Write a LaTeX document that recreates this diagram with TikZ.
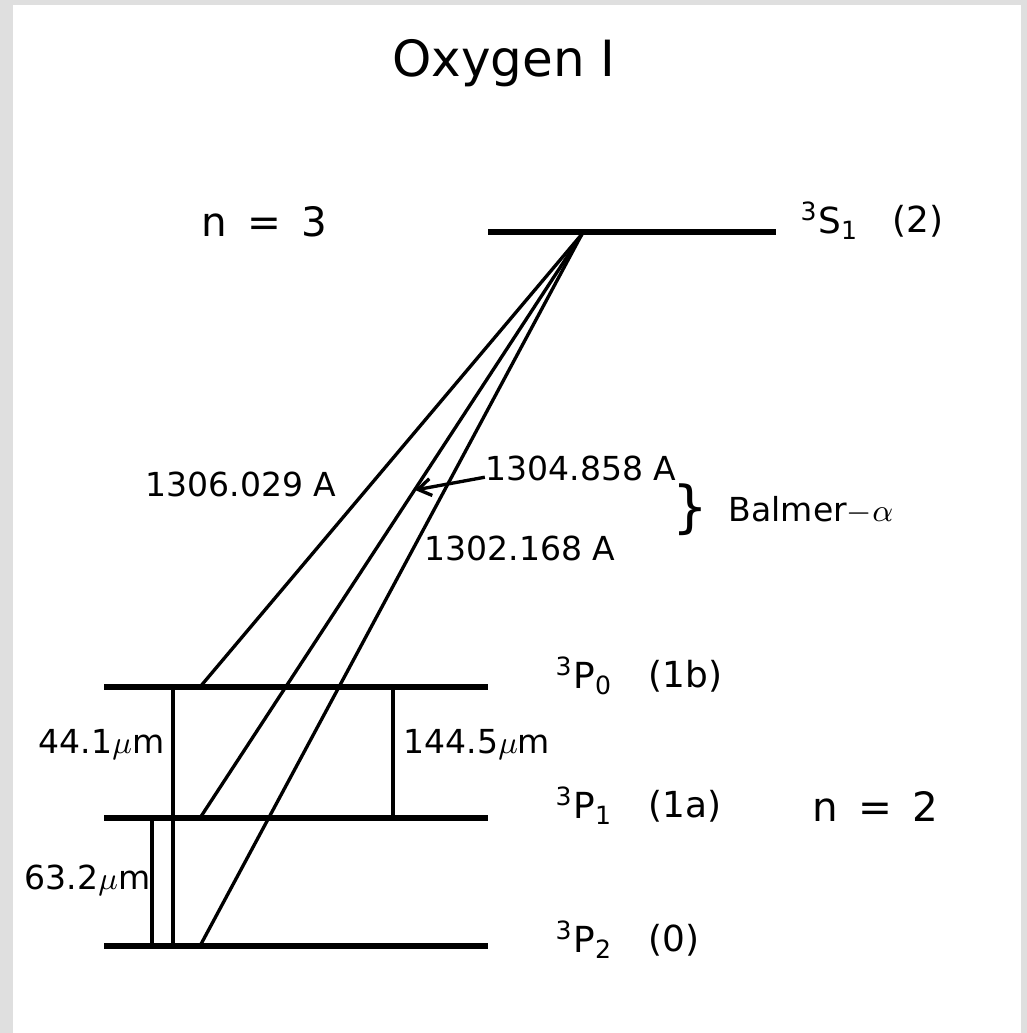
\documentclass[tikz,border=0pt]{standalone}
\usepackage{fontspec}
\setmainfont{DejaVu Sans}
\usetikzlibrary{arrows.meta}
\tikzset{
  >={Straight Barb[length=1.3mm,width=1.7mm]},
  level/.style={line width=1.5pt},
  trans/.style={line width=0.95pt},
  lbl/.style={inner sep=0pt, font=\fontsize{9.4}{11}\selectfont},
  term/.style={inner sep=0pt, anchor=west, font=\fontsize{10.2}{12}\selectfont},
  qnum/.style={inner sep=0pt, font=\fontsize{11.5}{14}\selectfont},
}
\newcommand{\trm}[3]{\textsuperscript{#1}#2\textsubscript{#3}}

\begin{document}
\begin{tikzpicture}[x=0.01cm, y=-0.01cm]
    \fill[gray!25] (0,0) rectangle (1027,1033);
    \fill[white] (13,5) rectangle (1021,1033);
    \useasboundingbox (0,0) rectangle (1027,1033);

    \node[inner sep=0pt, font=\fontsize{14.2}{17}\selectfont] (title) at (504,63) {Oxygen I};

    % energy levels
    \coordinate (S1l) at (488,232);  \coordinate (S1r) at (776,232);
    \coordinate (P0l) at (104,687);  \coordinate (P0r) at (488,687);
    \coordinate (P1l) at (104,818);  \coordinate (P1r) at (488,818);
    \coordinate (P2l) at (104,946);  \coordinate (P2r) at (488,946);
    \draw[level] (S1l) -- (S1r);
    \draw[level] (P0l) -- (P0r);
    \draw[level] (P1l) -- (P1r);
    \draw[level] (P2l) -- (P2r);

    \node[qnum] (n3) at (264,222) {n\hspace{0.5em}=\hspace{0.5em}3};
    \node[qnum] (n2) at (875,806) {n\hspace{0.5em}=\hspace{0.5em}2};

    \node[term] (tS1) at (800,221) {\trm{3}{S}{1}};
    \node[term] (wS1) at (892,221) {(2)};
    \node[term] (tP0) at (555,676) {\trm{3}{P}{0}};
    \node[term] (wP0) at (648,676) {(1b)};
    \node[term] (tP1) at (555,806) {\trm{3}{P}{1}};
    \node[term] (wP1) at (648,806) {(1a)};
    \node[term] (tP2) at (555,940) {\trm{3}{P}{2}};
    \node[term] (wP2) at (648,940) {(0)};

    % UV lines
    \coordinate (up) at (582,234);
    \coordinate (dn0) at (200,687);
    \coordinate (dn1) at (200,818);
    \coordinate (dn2) at (200,946);
    \draw[trans] (up) -- (dn0);
    \draw[trans] (up) -- (dn1);
    \draw[trans] (up) -- (dn2);

    \node[lbl] (l1306) at (241,484) {1306.029 A};
    \node[lbl] (l1304) at (581,468) {1304.858 A};
    \node[lbl] (l1302) at (520,548) {1302.168 A};
    \coordinate (hit) at (415,490);
    \draw[trans, ->] (l1304.south west) ++(0,-4) -- (hit);

    \node[inner sep=0pt, font=\fontsize{16}{18}\selectfont] (brace) at (690,510) {\}};
    \node[lbl, anchor=west] (balmer) at (728,510) {Balmer$-\alpha$};

    % fine structure lines
    \coordinate (f44a) at (173,687);  \coordinate (f44b) at (173,946);
    \coordinate (f63a) at (152,818);  \coordinate (f63b) at (152,946);
    \coordinate (f14a) at (393,687);  \coordinate (f14b) at (393,818);
    \draw[trans] (f44a) -- (f44b);
    \draw[trans] (f63a) -- (f63b);
    \draw[trans] (f14a) -- (f14b);

    \node[lbl, anchor=east] (l44) at (165,745) {44.1$\mu$m};
    \node[lbl, anchor=east] (l63) at (151,880) {63.2$\mu$m};
    \node[lbl, anchor=west] (l144) at (403,745) {144.5$\mu$m};
\end{tikzpicture}
\end{document}
